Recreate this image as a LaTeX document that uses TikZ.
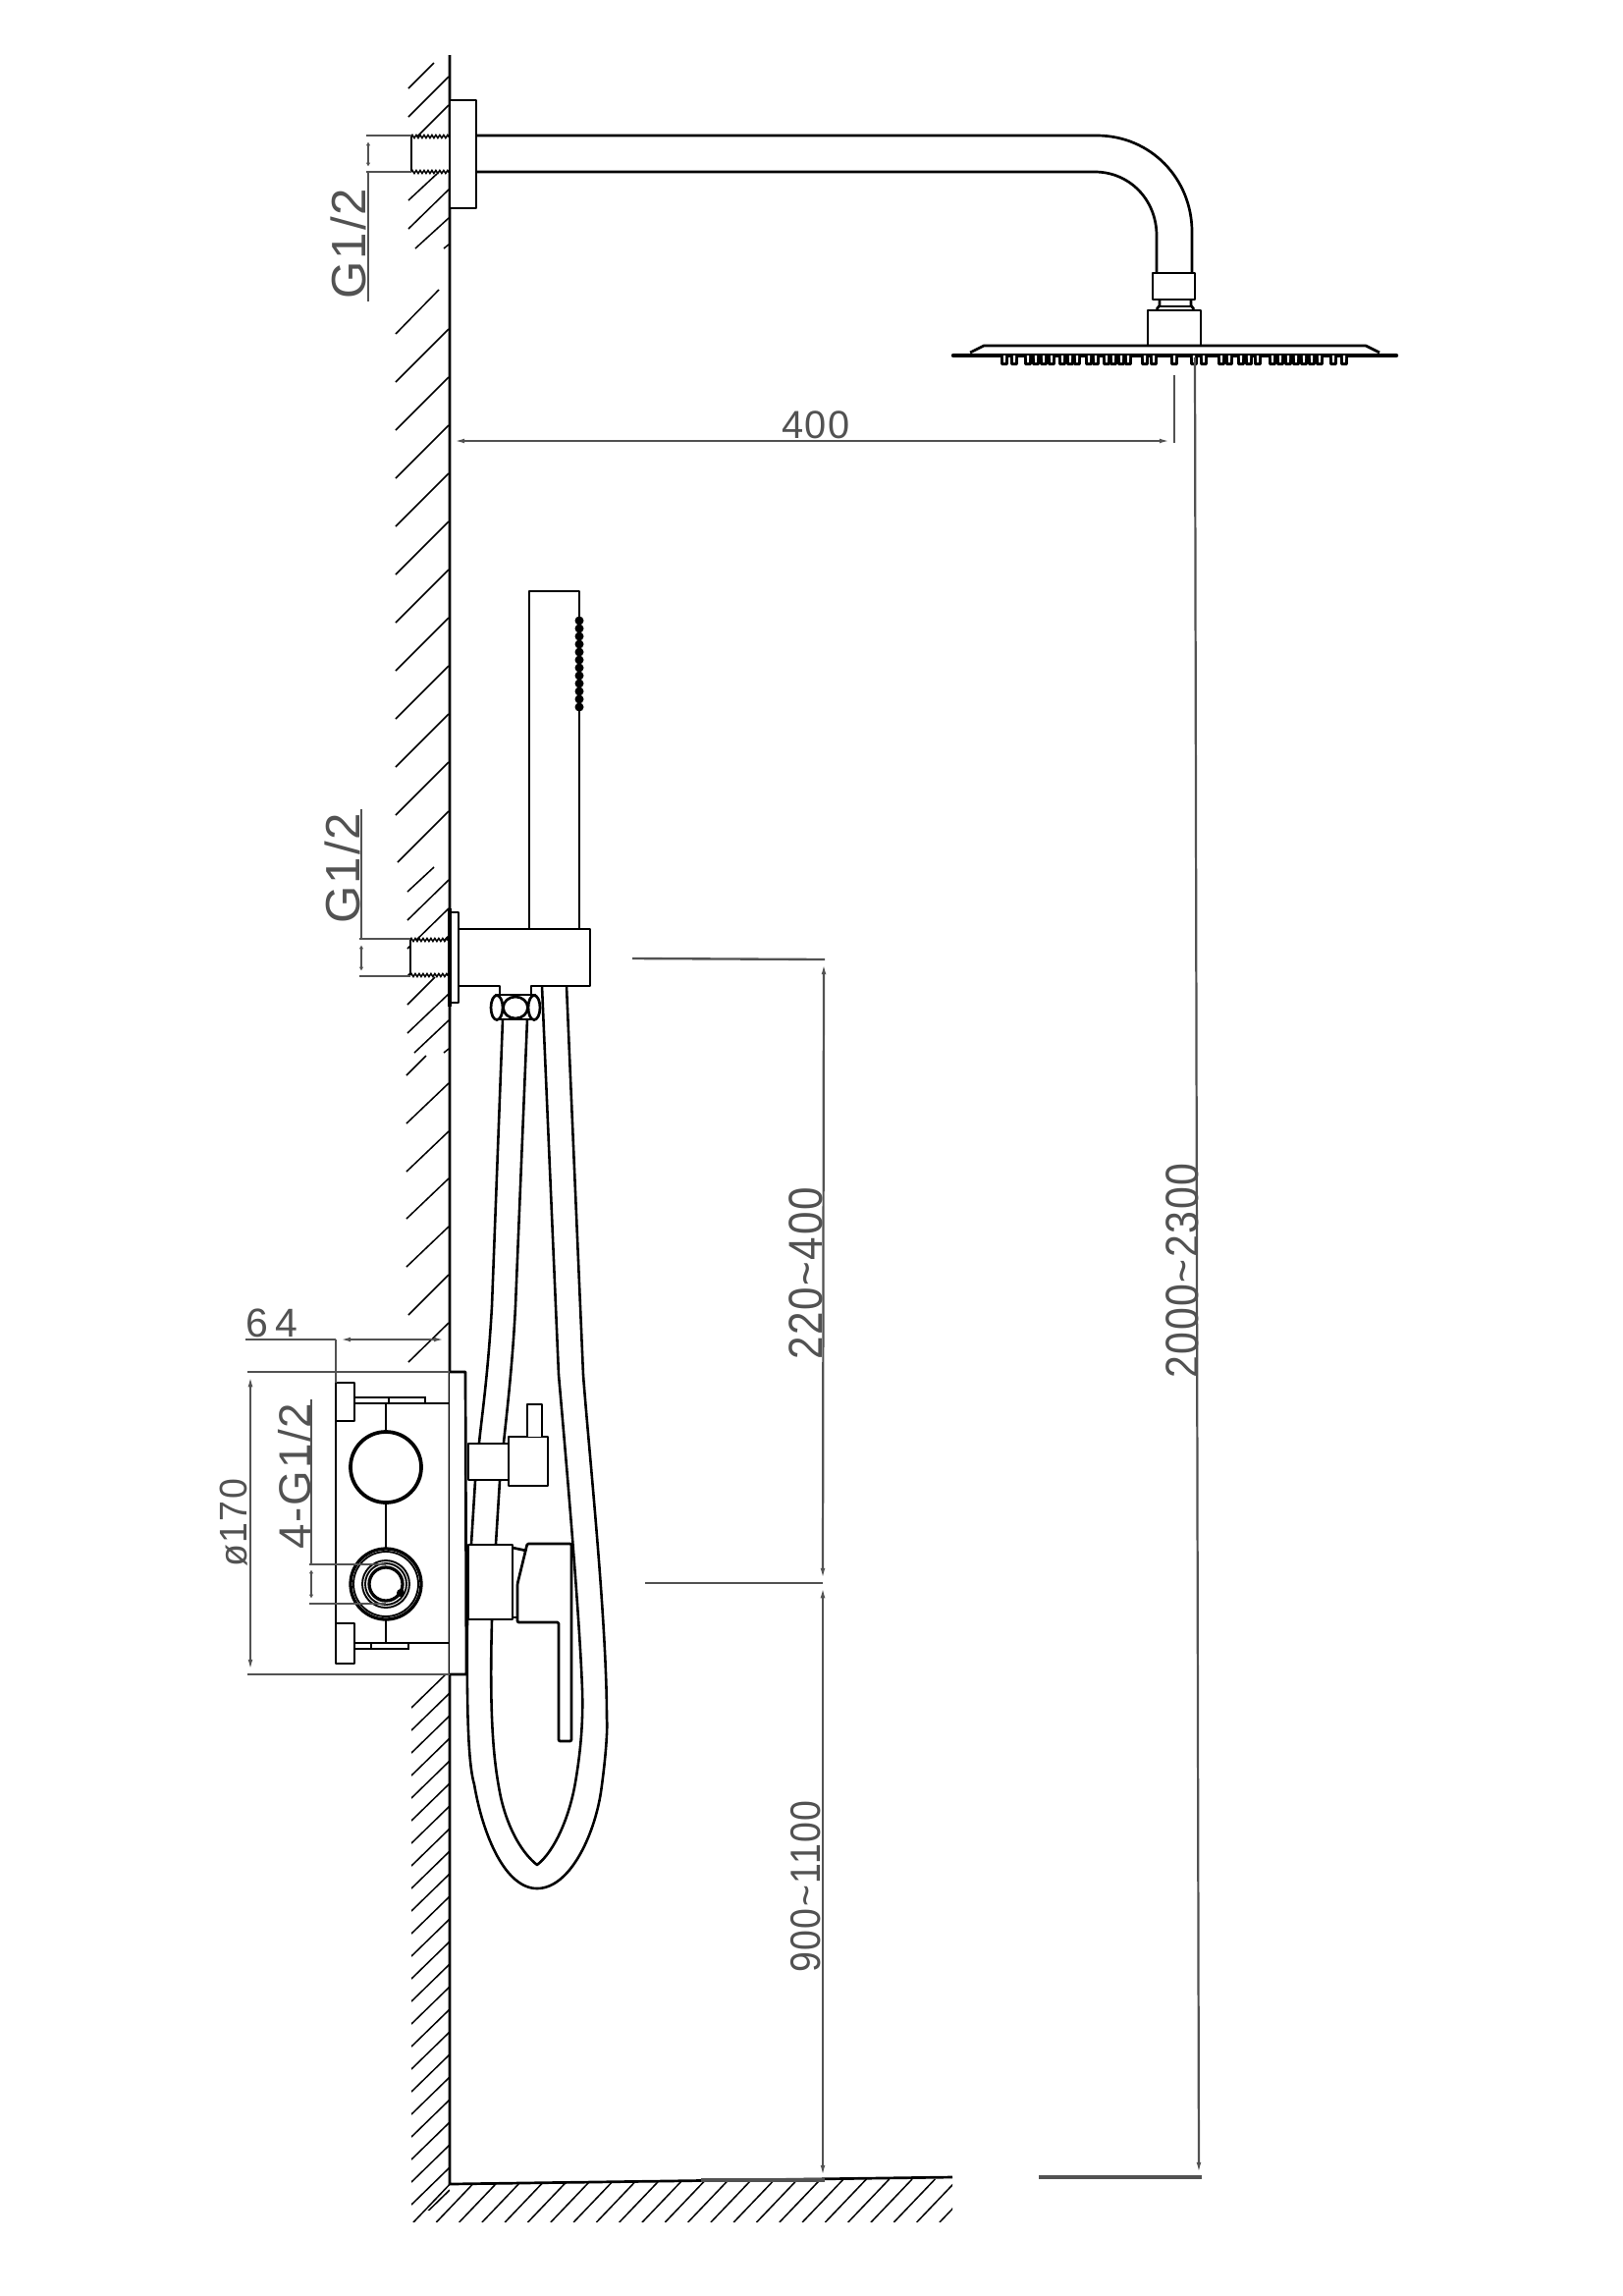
\documentclass[tikz,border=0pt]{standalone}
\usepackage{graphicx}
\usepackage{fontspec}
\setmainfont{Liberation Sans}
\newfontfamily\dimfont[LetterSpace=4]{Liberation Sans}
\usetikzlibrary{arrows.meta,decorations.pathmorphing}

\tikzset{
  part/.style={black,line width=2.3pt,line join=round},
  thinpart/.style={black,line width=1.6pt},
  hatchline/.style={black,line width=1.3pt},
  dimline/.style={black!68,line width=2pt},
  dimarrow/.style={black!68,line width=1.9pt,{Latex[length=13pt,width=3.8pt]}-{Latex[length=13pt,width=3.8pt]}},
  dimend/.style={black!68,line width=1.9pt,-{Latex[length=13pt,width=3.8pt]}},
  threadline/.style={black,line width=1.3pt,decorate,decoration={zigzag,segment length=3.4pt,amplitude=1.3pt}},
  dimtext/.style={black!68,inner sep=0pt,outer sep=0pt}
}
\newcommand{\nozzle}[1]{%
  \fill[black,rounded corners=1pt] (#1-3.8,363) -- (#1-3.8,372) -- (#1+3.8,372) -- (#1+3.8,363) -- cycle;
  \fill[white] (#1-1.2,362) -- (#1+1.2,362) -- (#1+.8,369) -- (#1-.8,369) -- cycle;
}
\newcommand{\dimlabel}[3]{\scalebox{1}[#2]{\fontsize{#1}{#1}\dimfont #3}}

\begin{document}
\begin{tikzpicture}[x=0.03cm,y=-0.03cm]
  \useasboundingbox (0,0) rectangle (1653,2338);

  % The hatching behind the wall, top part.
  \foreach \xa/\ya/\xb/\yb in {416/90/442/64, 416/119/457/78, 425/139/457/107,
      416/204/445/177, 416/233/457/193, 423/253/457/222, 452/253/457/249,
      403/340/447/295, 403/389/457/335, 403/438/457/384, 403/487/457/433,
      403/536/457/482, 403/585/457/531, 403/634/457/580, 403/683/457/629,
      403/732/457/678, 403/781/457/727, 403/830/457/776, 405/878/457/826,
      415/908/442/883, 415/937/457/896, 415/966/457/925, 415/994/457/953,
      415/1023/443/995, 415/1052/457/1012, 422/1072/457/1039, 452/1072/457/1068,
      414/1095/434/1075, 414/1144/457/1103, 414/1193/457/1152, 414/1241/457/1200,
      414/1290/457/1249, 416/1339/457/1298, 416/1387/457/1347}
    \draw[hatchline] (\xa,\ya) -- (\xb,\yb);

  % The hatching below the box.
  \begin{scope}
    \clip (419,1705) rectangle (458,2250);
    \foreach \k in {0,...,23}
      \draw[hatchline] (419,{1739+23*\k}) -- (458,{1701+23*\k});
  \end{scope}

  % The hatching under the floor.
  \begin{scope}
    \clip (419,2224) -- (970,2217) -- (970,2263) -- (419,2263) -- cycle;
    \foreach \k in {0,...,24}
      \draw[hatchline] ({421+23.3*\k},2263) -- ({463+23.3*\k},2219);
  \end{scope}

  % Wall and floor.
  \draw[part] (458,56) -- (458,2224) -- (970,2217);

  % The arm of the overhead shower.
  \fill[white] (419,139) rectangle (457,175);
  \draw[thinpart] (419,139) -- (419,175);
  \draw[threadline] (419,139) -- (457,139);
  \draw[threadline] (419,175) -- (457,175);
  \draw[part,fill=white] (458,102) rectangle (485,212);
  \draw[part] (485,138) -- (1117,138)
    .. controls (1172,138) and (1214,182) .. (1214,236) -- (1214,278);
  \draw[part] (485,175) -- (1115,175)
    .. controls (1150,175) and (1178,203) .. (1178,240) -- (1178,278);

  % Nut, neck and base of the head.
  \draw[part] (1174,278) rectangle (1217,305);
  \draw[part] (1181,305) -- (1181,311) -- (1178,315);
  \draw[part] (1213,305) -- (1213,311) -- (1216,315);
  \draw[thinpart] (1181,312) -- (1213,312);
  \draw[part] (1169,352) -- (1169,316) -- (1223,316) -- (1223,352);

  % The disc and its nozzles.
  \draw[part] (988,359) -- (1002,352) -- (1391,352) -- (1405,359);
  \draw[black,line width=3.8pt,line cap=round] (971,362) -- (1422,362);
  \foreach \nx in {1023,1033, 1047,1055,1063,1071, 1082,1090,1097, 1109,1116,
      1127,1134,1142,1149, 1166,1175, 1196, 1216,1226, 1244,1252, 1264,1272,1281,
      1296,1304,1312,1320,1328,1336,1344, 1358,1369}
    {\nozzle{\nx}}

  % The 400 dimension and the long vertical one.
  \draw[dimline] (1196,382) -- (1196,451);
  \draw[dimarrow] (458,449) -- (1196,449);
  \node[dimtext] (dimFourHundred) at (831,433) {\dimlabel{34}{1}{400}};
  \draw[dimend] (1217,364) -- (1221,2217);
  \draw[dimline,line width=3pt] (1058,2217) -- (1224,2217);
  \node[dimtext,rotate=90] (dimHeadHeight) at (1204,1294) {\dimlabel{35}{1.15}{2000\char`\~2300}};

  % G1/2 of the top arm.
  \draw[dimline] (373,138) -- (419,138);
  \draw[dimline] (373,175) -- (419,175);
  \draw[dimline] (375,175) -- (375,307);
  \draw[dimarrow,{Latex[length=8pt,width=3pt]}-{Latex[length=8pt,width=3pt]}] (375,139) -- (375,175);
  \node[dimtext,rotate=90] (threadTop) at (355,248) {\dimlabel{42}{1}{G1/2}};

  % The hand shower.
  \draw[part] (539,946) -- (539,602) -- (590,602) -- (590,946);
  \foreach \k in {0,...,11}
    \fill[black] (590,{632+8*\k}) circle (4.5);

  % The thread of the holder.
  \fill[white] (418,957) rectangle (457,993);
  \draw[thinpart] (418,957) -- (418,993);
  \draw[threadline] (418,957) -- (457,957);
  \draw[threadline] (418,993) -- (457,993);
  \draw[dimline] (366,956) -- (418,956);
  \draw[dimline] (366,994) -- (418,994);
  \draw[dimline] (368,956) -- (368,824);
  \draw[dimarrow,{Latex[length=8pt,width=3pt]}-{Latex[length=8pt,width=3pt]}] (368,957) -- (368,994);
  \node[dimtext,rotate=90] (threadMiddle) at (349,884) {\dimlabel{42}{1}{G1/2}};

  % The hose, all four of its lines.
  \draw[part,line width=2.2pt] (512,1038) -- (501,1330)
    .. controls (497,1400) and (491,1440) .. (488,1469) -- (484,1508) -- (480,1572) -- (476,1650)
    .. controls (475,1760) and (478,1800) .. (483,1817)
    .. controls (492,1870) and (515,1923) .. (547,1923)
    .. controls (580,1923) and (605,1870) .. (612,1825)
    .. controls (617,1790) and (619,1760) .. (618,1750)
    .. controls (618,1650) and (600,1480) .. (594,1400)
    -- (577,1004);
  \draw[part,line width=2.2pt] (537,1038) -- (525,1330)
    .. controls (522,1390) and (516,1440) .. (513,1469) -- (509,1508) -- (505,1572) -- (501,1650)
    .. controls (498,1760) and (504,1800) .. (510,1830)
    .. controls (518,1865) and (533,1888) .. (547,1899)
    .. controls (565,1885) and (580,1850) .. (586,1815)
    .. controls (592,1780) and (594,1750) .. (593,1720)
    .. controls (590,1640) and (576,1480) .. (569,1400)
    -- (552,1004);

  % The holder on the wall, with its nut.
  \draw[part] (467,1004) -- (509,1004) -- (509,1013);
  \draw[part] (541,1013) -- (541,1004) -- (601,1004) -- (601,946) -- (467,946);
  \draw[part,fill=white] (458,929) rectangle (467,1021);
  \draw[black,line width=3.6pt] (458,925) -- (458,1025);
  \fill[white] (503,1013) rectangle (547,1038);
  \draw[part] (504,1013) -- (546,1013);
  \draw[part] (504,1038) -- (546,1038);
  \draw[part,fill=white] (506,1026) ellipse (6 and 12.5);
  \draw[part,fill=white] (544,1026) ellipse (6 and 12.5);
  \draw[part] (525,1026) ellipse (12.5 and 11);

  % The box in the wall.
  \draw[part] (342,1447) -- (342,1653);
  \draw[part,line width=1.9pt,fill=white] (342,1408) rectangle (361,1447);
  \draw[part,line width=1.9pt,fill=white] (342,1653) rectangle (361,1694);
  \draw[thinpart] (361,1423) -- (433,1423) -- (433,1429) -- (361,1429);
  \draw[thinpart] (433,1429) -- (457,1429);
  \draw[thinpart] (396,1423) -- (396,1429);
  \draw[thinpart] (361,1673) -- (457,1673);
  \draw[thinpart] (361,1679) -- (416,1679) -- (416,1673);
  \draw[thinpart] (378,1673) -- (378,1679);

  % Shafts and the two round parts.
  \draw[part,line width=1.8pt] (393,1429) -- (393,1457);
  \draw[part,line width=1.8pt] (393,1532) -- (393,1576);
  \draw[part,line width=1.8pt] (393,1650) -- (393,1673);
  \draw[black,line width=3.2pt] (393,1494) circle (36);
  \draw[black,line width=2.8pt] (393,1613) circle (36);
  \draw[thinpart] (393,1613) circle (33);
  \draw[thinpart] (393,1613) circle (24);
  \draw[thinpart] (393,1613) circle (21);
  \draw[black,line width=2.8pt] (393,1613) circle (17);
  \fill[black] (408,1622) circle (4);

  % Cover plate on the wall.
  \draw[part,fill=white] (458,1397) -- (474,1397) -- (475,1705) -- (458,1705);

  % Upper valve with its lever.
  \draw[part,fill=white] (477,1470) rectangle (518,1507);
  \draw[part,fill=white] (518,1463) rectangle (558,1513);
  \draw[part,fill=white] (537,1463) -- (537,1430) -- (552,1430) -- (552,1463);

  % Lower valve with the handle.
  \draw[part,fill=white] (477,1573) rectangle (522,1649);
  \draw[part] (522,1576) -- (536,1579);
  \draw[part] (522,1647) -- (527,1647);
  \draw[part,fill=white,rounded corners=1pt] (537,1572) -- (582,1572) -- (582,1773)
    -- (569,1773) -- (569,1652) -- (527,1652) -- (527,1613) -- cycle;

  % The short dimensions at the box.
  \draw[dimline] (252,1397) -- (458,1397);
  \draw[dimline] (252,1705) -- (458,1705);
  \draw[dimline] (250,1364) -- (342,1364);
  \draw[dimline] (342,1364) -- (342,1408);
  \draw[dimarrow] (342,1364) -- (457,1364);
  \draw[dimarrow] (255,1397) -- (255,1705);
  \node[dimtext] (dimDepth) at (277,1347) {\dimlabel{35}{1}{6\,4}};
  \node[dimtext,rotate=90] (dimBox) at (238,1551) {\dimlabel{32}{1.05}{ø170}};

  % 4-G1/2 at the lower round part.
  \draw[dimline] (317,1425) -- (317,1593);
  \draw[dimline] (315,1593) -- (393,1593);
  \draw[dimline] (315,1633) -- (393,1633);
  \draw[dimarrow,{Latex[length=8pt,width=3pt]}-{Latex[length=8pt,width=3pt]}] (317,1593) -- (317,1633);
  \node[dimtext,rotate=90] (threadBox) at (300,1503) {\dimlabel{39}{1}{4-G1/2}};

  % Heights on the middle line.
  \draw[dimline] (644,976) -- (840,977);
  \draw[dimline] (657,1612) -- (838,1612);
  \draw[dimline,line width=3pt] (714,2220) -- (840,2220);
  \draw[dimarrow] (839,977) -- (838,1612);
  \draw[dimarrow] (838,1612) -- (838,2220);
  \node[dimtext,rotate=90] (dimHolder) at (821,1297) {\dimlabel{36}{1.15}{220\char`\~400}};
  \node[dimtext,rotate=90] (dimValve) at (821,1921) {\dimlabel{32}{1.15}{900\char`\~1100}};
\end{tikzpicture}
\end{document}
